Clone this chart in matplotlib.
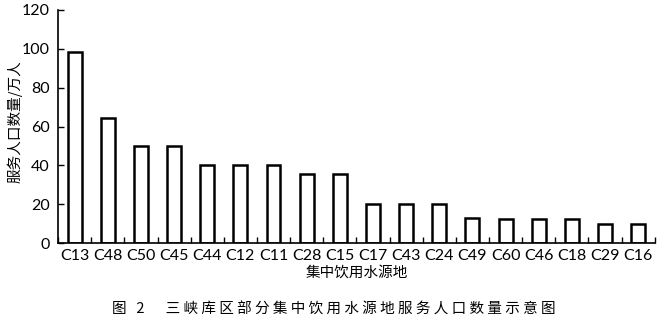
import matplotlib as mpl
mpl.use('Agg')
import matplotlib.pyplot as plt
import numpy as np

plt.rcParams['font.family'] = ['Lato', 'DejaVu Sans', 'Noto Sans CJK SC']

sites = ['C13', 'C48', 'C50', 'C45', 'C44', 'C12', 'C11', 'C28', 'C15',
         'C17', 'C43', 'C24', 'C49', 'C60', 'C46', 'C18', 'C29', 'C16']
pop = [98.5, 64.5, 50, 50, 40, 40, 40, 35.5, 35.5,
       20.3, 20, 20, 13, 12.5, 12.2, 12.2, 9.8, 9.8]
yticks = [0, 20, 40, 60, 80, 100, 120]

fig = plt.figure(figsize=(6.6, 3.29), dpi=100)
ax = fig.add_axes([0.088, 0.261, 0.904, 0.709])

x = np.arange(len(sites))
ax.bar(x, pop, width=0.42, color='white', edgecolor='black', linewidth=1.8)

ax.set_xlim(-0.5, len(sites) - 0.5)
ax.set_ylim(0, 120)
ax.set_yticks(yticks)
ax.set_xticks(x)
ax.set_xticklabels(sites, fontsize=11.5)
ax.set_xticks(np.arange(len(sites) + 1) - 0.5, minor=True)
ax.tick_params(axis='x', which='major', length=0, pad=4)
ax.tick_params(axis='x', which='minor', direction='in', length=4, width=1)
ax.tick_params(axis='y', direction='in', length=4, width=1, labelsize=11.5, pad=6)
for s in ['top', 'right']:
    ax.spines[s].set_visible(False)
for s in ['left', 'bottom']:
    ax.spines[s].set_linewidth(1.2)

ax.set_ylabel('服务人口数量/万人', fontsize=10.5, family=['Noto Sans CJK SC'])
ax.yaxis.set_label_coords(-0.060, 0.52)
ax.set_xlabel('集中饮用水源地', fontsize=10.5, family=['Noto Sans CJK SC'], labelpad=2)

caption = '图 2　三峡库区部分集中饮用水源地服务人口数量示意图'
fig.text(0.506, 0.058, ' '.join(caption), ha='center', va='center',
         fontsize=10.5, family=['Noto Sans CJK SC', 'DejaVu Sans'])

fig.savefig('out.png', dpi=100)
